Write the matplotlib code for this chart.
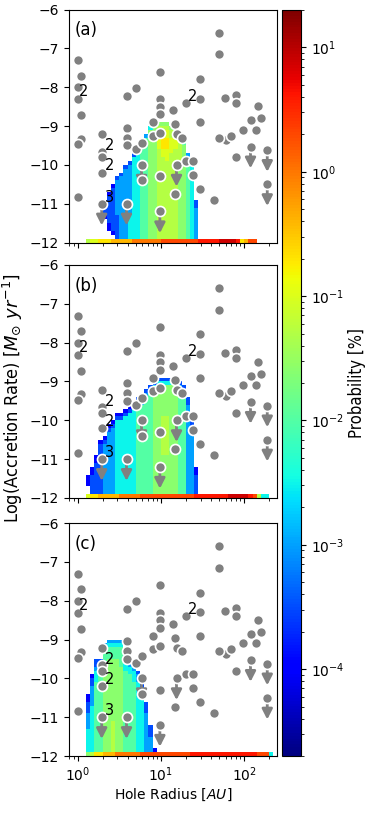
import numpy as np
import matplotlib
matplotlib.use('Agg')
import matplotlib.pyplot as plt
from matplotlib.colors import LogNorm
from matplotlib import font_manager

# observed disks: hole radius [AU], log accretion rate
pt_radius = [1.0, 1.1, 1.0, 1.0, 1.1, 1.1, 1.0, 1.0,
             1.95, 1.95, 1.95, 1.95, 1.95,
             3.87, 4.97, 3.87, 3.87, 3.87, 4.97, 5.86, 5.86, 5.86, 3.87,
             7.94, 7.94, 9.73, 9.73, 9.73, 9.73, 9.73, 9.73, 9.73,
             13.8, 14.7, 15.4, 17.7, 15.4, 14.7,
             19.8, 19.8, 24.4, 24.4,
             29.4, 29.4, 29.4, 29.4,
             43.6, 49.7, 49.7, 60.0, 49.7,
             58.6, 78.7, 78.7, 69.2, 78.7,
             97.2, 119, 119, 138, 147, 158, 189, 189]
pt_acc = [-7.31, -7.71, -8.0, -8.31, -8.72, -9.33, -9.47, -10.83,
          -9.21, -9.66, -9.81, -10.2, -11.0,
          -8.22, -8.02, -9.05, -9.3, -9.5, -9.6, -9.43, -10.0, -10.4, -11.0,
          -8.9, -9.25, -9.17, -7.6, -8.31, -8.5, -8.7, -10.3, -11.2,
          -8.6, -8.95, -9.21, -9.3, -10.0, -10.75,
          -8.4, -9.9, -9.9, -10.25,
          -7.79, -8.3, -8.9, -10.62,
          -10.9, -6.6, -7.15, -9.37, -9.3,
          -8.27, -8.2, -8.4, -9.25, -9.81,
          -9.1, -8.85, -9.53, -9.1, -8.49, -8.8, -9.62, -10.5]
# upper limits (arrows)
lim_radius = [1.95, 3.87, 5.86, 9.73, 15.4, 119, 189, 189]
lim_acc = [-11.0, -11.0, -10.0, -11.2, -10.0, -9.53, -9.62, -10.5]
# multiplicity labels
num_text = ['2', '2', '2', '3', '2']
num_radius = [1.17, 2.4, 2.4, 2.4, 23.8]
num_acc = [-8.12, -9.51, -10.02, -10.84, -8.23]

# probability maps, log R bins of 0.05 dex from 0.1, log Mdot bins of 0.1 from -12
# one char per cell = log10(probability) level, columns listed bottom-up from -11.9
level_chars = '0123456789ABCDE'
level_logs = [-4.5, -4.0, -3.5, -3.0, -2.5, -2.0, -1.6, -1.3, -1.0, -0.7, -0.4, 0.0, 0.3, 0.6, 0.9]

strip_a = '788999' + 'AAAAA' + 'BBBBBBB' + 'C' * 9 + 'DDDDD' + 'EEEE' + 'D9ACC' + '....'
strip_b = '899' + 'AAAAA' + 'BBBBB' + 'C' * 13 + 'D' * 8 + 'E' * 5 + 'DC744.'
strip_c = '6799AAABBBBBB' + 'C' * 12 + 'D' * 16 + 'CCC4'

cols_a = ['', '', '', '',
          '.....12221',
          '..1122222221',
          '.1222222222221',
          '2222223333333332',
          '3' * 16 + '2',
          '3' * 18 + '2',
          '4' * 6 + '3' * 13 + '2',
          '4' * 21 + '2',
          '4' * 22 + '2',
          '5' * 24 + '3',
          '5' * 26 + '3',
          '6' * 28 + '4',
          '6' * 29 + '5',
          '7' * 23 + '8' * 5 + '76',
          '7' * 21 + '88' + '999' + '88' + '76',
          '7' * 20 + '888' + '999' + '88' + '76',
          '7' * 22 + '8' * 4 + '776',
          '7' * 23 + '888' + '775',
          '6' * 20 + '7' * 5 + '64',
          '6' * 24 + '53',
          '5' * 21 + '3',
          '4' * 20 + '2',
          '3' * 8 + '22'] + [''] * 18

cols_b = ['..111',
          '2222211',
          '2' * 8 + '11',
          '2' * 12 + '21',
          '3' * 13 + '21',
          '3' * 16 + '21',
          '3' * 17 + '21',
          '4' * 19 + '21',
          '4' * 19 + '21',
          '4' * 20 + '21',
          '4' * 21 + '21',
          '4' * 22 + '32',
          '5' * 23 + '32',
          '5' * 23 + '32',
          '5' * 25 + '32',
          '5' * 26 + '32',
          '6' * 27 + '42',
          '6' * 28 + '42',
          '6' * 10 + '7' * 10 + '6' * 8 + '42',
          '6' * 10 + '7' * 10 + '6' * 8 + '42',
          '6' * 28 + '42',
          '6' * 28 + '32',
          '5' * 27 + '32',
          '5' * 26 + '32',
          '3' * 23 + '22',
          '3' * 17 + '22',
          '2' * 5 + '11'] + [''] * 18

cols_c = ['4' * 6 + '3' * 4 + '222' + '11',
          '4' * 12 + '3' * 5 + '221',
          '5' * 18 + '444' + '322',
          '5' * 20 + '44' + '32',
          '6' * 22 + '5' * 4 + '43',
          '6' * 24 + '555' + '43',
          '7' * 8 + '6' * 16 + '555' + '43',
          '6' * 24 + '555' + '43',
          '6' * 22 + '5' * 5 + '43',
          '5' * 21 + '44' + '32',
          '5' * 20 + '44' + '32',
          '5' * 18 + '444' + '32',
          '4' * 18 + '33' + '2',
          '4' * 14 + '33' + '22',
          '3' * 10 + '222',
          '3' * 4 + '222',
          '1'] + [''] * 28

x_edges = 10 ** (0.1 + 0.05 * np.arange(46))
y_edges = -12 + 0.1 * np.arange(32)


def build_map(strip, cols):
    z = np.full((31, 45), np.nan)
    for i, ch in enumerate(strip):
        if ch != '.':
            z[0, i] = 10 ** level_logs[level_chars.index(ch)]
    for i, s in enumerate(cols):
        for k, ch in enumerate(s):
            if ch != '.':
                z[1 + k, i] = 10 ** level_logs[level_chars.index(ch)]
    return np.ma.masked_invalid(z)


plt.rcParams['font.size'] = 10

# narrow font for the two long axis labels, if one is installed
cond_file = None
for f in font_manager.fontManager.ttflist:
    narrow = 'Condensed' in f.name or 'Narrow' in f.name or f.stretch in ('condensed', 'semi-condensed')
    if narrow and f.style == 'normal' and f.weight in (400, 'normal', 'regular') and 'Mono' not in f.name:
        cond_file = f.fname
        break


def label_font(size):
    if cond_file:
        return font_manager.FontProperties(fname=cond_file, size=size)
    return font_manager.FontProperties(family='Liberation Sans', size=size)


fig = plt.figure(figsize=(3.74, 8.13), dpi=100)
norm = LogNorm(vmin=2e-5, vmax=20)
bottoms = [0.7017, 0.3875, 0.0701]
maps = [(strip_a, cols_a), (strip_b, cols_b), (strip_c, cols_c)]
panel_names = ['(a)', '(b)', '(c)']

for n in range(3):
    ax = fig.add_axes([0.1845, bottoms[n], 0.556, 0.2866])
    mesh = ax.pcolormesh(x_edges, y_edges, build_map(*maps[n]), cmap='jet', norm=norm, zorder=1)
    for r, a in zip(lim_radius, lim_acc):
        ax.annotate('', xy=(r, a - 0.56), xytext=(r, a),
                    arrowprops=dict(arrowstyle='-|>,head_length=0.55,head_width=0.28', color='grey',
                                    lw=2, shrinkA=0, shrinkB=0, mutation_scale=11), zorder=3)
    ax.scatter(pt_radius, pt_acc, s=52, c='grey', edgecolors='white', linewidths=1.2, zorder=4)
    for t, r, a in zip(num_text, num_radius, num_acc):
        ax.text(r, a, t, ha='center', va='center', fontsize=10.5, zorder=5)
    ax.text(0.025, 0.91, panel_names[n], transform=ax.transAxes, fontsize=12, va='center')
    ax.set_xscale('log')
    ax.set_xlim(0.79, 247)
    ax.set_ylim(-12, -6)
    ax.set_yticks([-12, -11, -10, -9, -8, -7, -6])
    if n < 2:
        ax.tick_params(axis='x', which='both', labelbottom=False)
    else:
        ax.set_xlabel('Hole Radius [$AU$]', labelpad=2)

fig.text(0.035, 0.51, r'Log(Accretion Rate) [$M_{\odot}\ yr^{-1}$]', rotation=90,
         ha='center', va='center', fontproperties=label_font(13))

cax = fig.add_axes([0.754, 0.0701, 0.0508, 0.9176])
cb = fig.colorbar(mesh, cax=cax)
fig.text(0.955, 0.529, 'Probability [%]', rotation=90, ha='center', va='center',
         fontproperties=label_font(12))

fig.savefig('out.png', dpi=100)
